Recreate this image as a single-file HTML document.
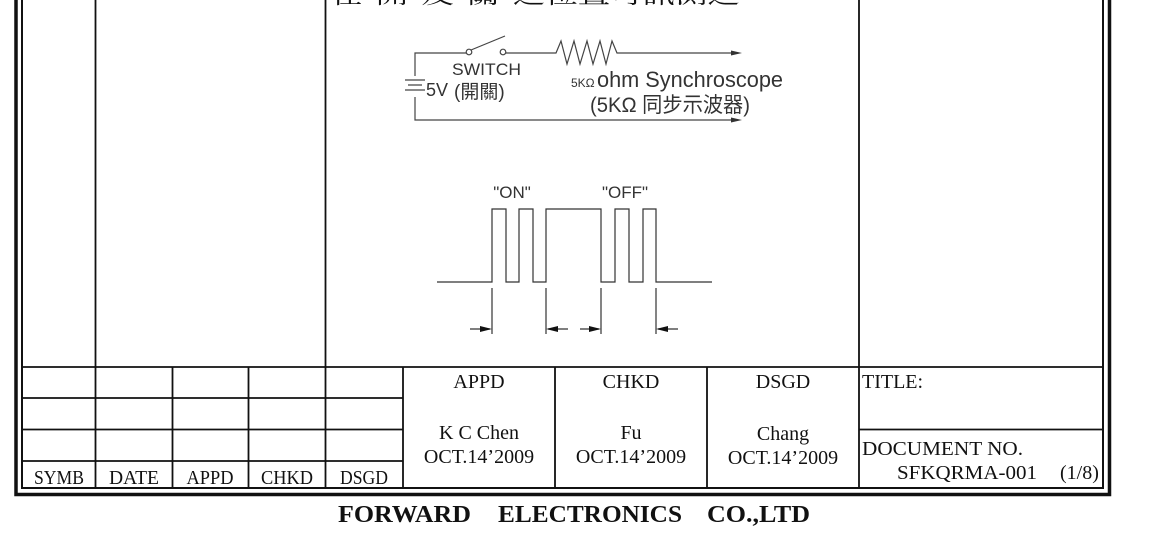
<!DOCTYPE html>
<html><head><meta charset="utf-8"><style>
html,body{margin:0;padding:0;background:#fff;width:1150px;height:534px;overflow:hidden}
svg{display:block}
.s{font-family:"Liberation Serif","Noto Serif CJK SC",serif;fill:#111}
.c{font-family:"Liberation Sans","Noto Sans CJK TC",sans-serif;fill:#333}
</style></head><body>
<svg width="1150" height="534" viewBox="0 0 1150 534" xmlns="http://www.w3.org/2000/svg">
<g stroke="#111" fill="none">
<path d="M16 0 V494.5 H1109.5 V0" stroke-width="3.5"/>
<path d="M22 0 V488 H1103 V0" stroke-width="2"/>
<line x1="95.5" y1="0" x2="95.5" y2="488" stroke-width="1.8"/>
<line x1="325.5" y1="0" x2="325.5" y2="488" stroke-width="1.8"/>
<line x1="859" y1="0" x2="859" y2="488" stroke-width="1.8"/>
<line x1="22" y1="367" x2="1103" y2="367" stroke-width="1.8"/>
<line x1="22" y1="398" x2="403" y2="398" stroke-width="1.8"/>
<line x1="22" y1="429.5" x2="403" y2="429.5" stroke-width="1.8"/>
<line x1="22" y1="461" x2="403" y2="461" stroke-width="1.8"/>
<line x1="859" y1="429.5" x2="1103" y2="429.5" stroke-width="1.8"/>
<line x1="172.5" y1="367" x2="172.5" y2="488" stroke-width="1.8"/>
<line x1="248.5" y1="367" x2="248.5" y2="488" stroke-width="1.8"/>
<line x1="403" y1="367" x2="403" y2="488" stroke-width="1.8"/>
<line x1="555" y1="367" x2="555" y2="488" stroke-width="1.8"/>
<line x1="707" y1="367" x2="707" y2="488" stroke-width="1.8"/>
</g>
<g stroke="#444" fill="none" stroke-width="1.2">
<path d="M466 53 H415 V76 M415 97 V120 H735"/>
<path d="M405 80 H425 M408 85 H422 M405 90 H425"/>
<circle cx="469" cy="52" r="2.8"/>
<circle cx="503" cy="52" r="2.8"/>
<line x1="471" y1="50" x2="505" y2="36"/>
<path d="M506 53 H556 L561 41 L567 64 L574 41 L580 64 L587 41 L593 64 L600 41 L606 64 L612 41 L617 53 H735"/>
</g>
<g fill="#333"><path d="M742 53 L731 50.5 V55.5Z M742 120 L731 117.5 V122.5Z"/></g>
<text class="c" x="452" y="75" font-size="17" textLength="69" lengthAdjust="spacingAndGlyphs">SWITCH</text>
<text class="c" x="426" y="96" font-size="18">5V</text>
<text class="c" x="454" y="98" font-size="19">(開關)</text>
<text class="c" x="571" y="87" font-size="12">5KΩ</text>
<text class="c" x="597" y="87" font-size="22" textLength="186" lengthAdjust="spacingAndGlyphs">ohm Synchroscope</text>
<text class="c" x="590" y="112" font-size="21" textLength="160" lengthAdjust="spacingAndGlyphs">(5KΩ 同步示波器)</text>
<text class="s" x="330" y="3" font-size="24" textLength="410" lengthAdjust="spacingAndGlyphs">在"開"及"關"之位置可訊測之</text>
<g stroke="#333" fill="none" stroke-width="1.2">
<path d="M437 282 H492 V209 H506 V282 H519 V209 H533 V282 H546 V209 H601 V282 H615 V209 H629 V282 H643 V209 H656 V282 H712"/>
<path d="M492 288 V334 M546 288 V334 M601 288 V334 M656 288 V334"/>
<path d="M470 329 H490 M548 329 H568 M580 329 H599 M658 329 H678"/>
</g>
<g fill="#111"><path d="M492 329 L480 326 V332Z M546 329 L558 326 V332Z M601 329 L589 326 V332Z M656 329 L668 326 V332Z"/></g>
<text class="c" x="512" y="198" font-size="17" text-anchor="middle">"ON"</text>
<text class="c" x="625" y="198" font-size="17" text-anchor="middle">"OFF"</text>
<g class="s" font-size="20" text-anchor="middle">
<text x="59" y="484" textLength="50" lengthAdjust="spacingAndGlyphs">SYMB</text>
<text x="134" y="484" textLength="50" lengthAdjust="spacingAndGlyphs">DATE</text>
<text x="210" y="484" textLength="47" lengthAdjust="spacingAndGlyphs">APPD</text>
<text x="287" y="484" textLength="52" lengthAdjust="spacingAndGlyphs">CHKD</text>
<text x="364" y="484" textLength="48" lengthAdjust="spacingAndGlyphs">DSGD</text>
<text x="479" y="388">APPD</text>
<text x="631" y="388">CHKD</text>
<text x="783" y="388">DSGD</text>
<text x="479" y="439">K C Chen</text>
<text x="631" y="439">Fu</text>
<text x="783" y="440">Chang</text>
<text x="479" y="463">OCT.14’2009</text>
<text x="631" y="463">OCT.14’2009</text>
<text x="783" y="464">OCT.14’2009</text>
</g>
<g class="s" font-size="20">
<text x="862" y="388">TITLE:</text>
<text x="862" y="455" textLength="161" lengthAdjust="spacingAndGlyphs">DOCUMENT NO.</text>
<text x="897" y="479" textLength="140" lengthAdjust="spacingAndGlyphs">SFKQRMA-001</text>
<text x="1060" y="479">(1/8)</text>
</g>
<g class="s" font-size="24" font-weight="bold">
<text x="338" y="522" textLength="133" lengthAdjust="spacingAndGlyphs">FORWARD</text>
<text x="498" y="522" textLength="184" lengthAdjust="spacingAndGlyphs">ELECTRONICS</text>
<text x="707" y="522" textLength="103" lengthAdjust="spacingAndGlyphs">CO.,LTD</text>
</g>
</svg>
</body></html>
